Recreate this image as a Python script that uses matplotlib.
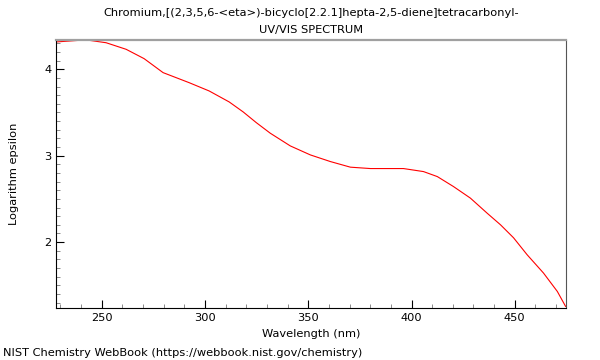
import matplotlib.pyplot as plt
from matplotlib.ticker import MultipleLocator

# spectrum
wavelength = [227.9, 242.4, 252.1, 261.8, 270.5, 279.7, 292.3, 302.0, 311.7, 318.5,
              324.8, 331.6, 341.3, 351.0, 360.7, 370.4, 380.1, 396.1, 405.8, 412.5,
              420.3, 428.5, 436.6, 443.1, 449.4, 456.0, 463.9, 470.6, 474.6]
log_eps = [4.316, 4.340, 4.307, 4.231, 4.123, 3.961, 3.845, 3.749, 3.622, 3.506,
           3.383, 3.260, 3.113, 3.009, 2.932, 2.867, 2.851, 2.851, 2.816, 2.758,
           2.643, 2.509, 2.335, 2.200, 2.050, 1.853, 1.642, 1.429, 1.256]

title = "Chromium,[(2,3,5,6-<eta>)-bicyclo[2.2.1]hepta-2,5-diene]tetracarbonyl-\nUV/VIS SPECTRUM"
fs = 8.2

fig = plt.figure(figsize=(6, 3.6), dpi=100)
ax = fig.add_axes([56 / 600, 51.7 / 360, 510 / 600, 268.6 / 360])

ax.plot(wavelength, log_eps, color="red", lw=0.8)
ax.set_xlim(227.85, 474.8)
ax.set_ylim(1.234, 4.342)

ax.xaxis.set_major_locator(MultipleLocator(50))
ax.xaxis.set_minor_locator(MultipleLocator(10))
ax.yaxis.set_major_locator(MultipleLocator(1))
ax.yaxis.set_minor_locator(MultipleLocator(0.1))
ax.tick_params(which="both", direction="in", top=False, right=False, labelsize=fs)
ax.tick_params(which="major", length=6)
ax.tick_params(which="minor", length=3, color="#777777")

ax.spines["top"].set_color("#a0a0a0")
ax.spines["top"].set_linewidth(1.6)
ax.spines["right"].set_color("#555555")

ax.set_xlabel("Wavelength (nm)", fontsize=fs, labelpad=4)
ax.set_ylabel("Logarithm epsilon", fontsize=fs, labelpad=18)
fig.text(311 / 600, 1 - 8 / 360, title, ha="center", va="top", fontsize=fs, linespacing=1.85)
fig.text(3 / 600, 2 / 360, "NIST Chemistry WebBook (https://webbook.nist.gov/chemistry)",
         ha="left", va="bottom", fontsize=fs)

fig.savefig("out.png", dpi=100)
